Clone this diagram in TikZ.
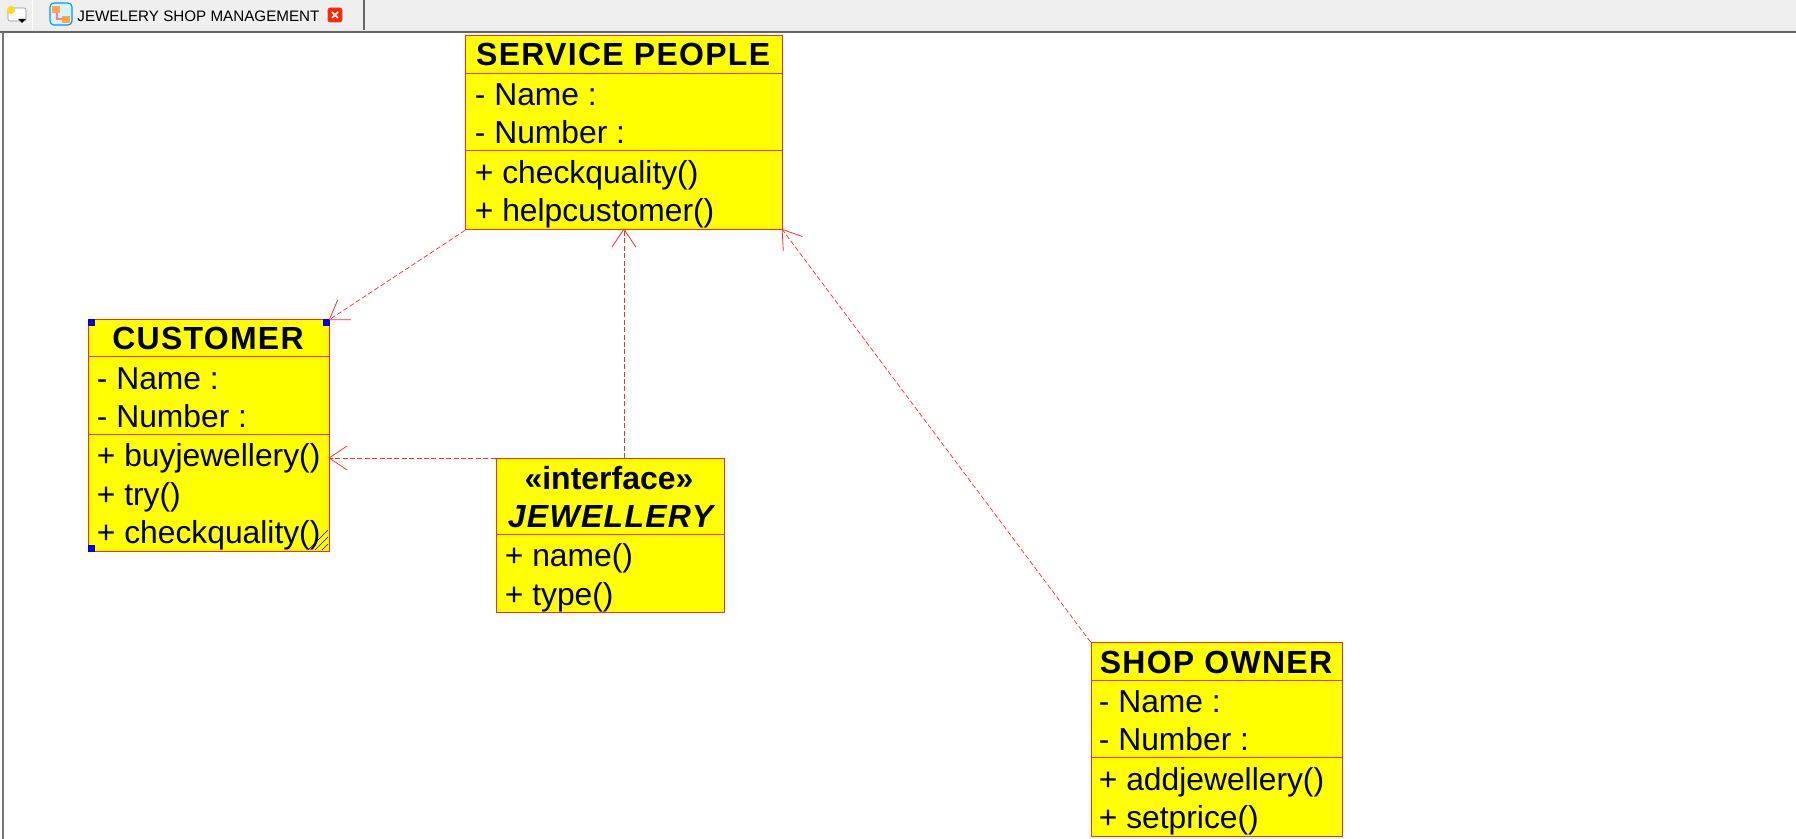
\documentclass[tikz,border=0pt]{standalone}
\usepackage{fontspec}
\setmainfont{Liberation Sans}
\newfontfamily\titlefont[LetterSpace=4]{Liberation Sans}
\usetikzlibrary{arrows.meta}
\definecolor{umlred}{RGB}{255,40,40}
\definecolor{umlyellow}{RGB}{255,255,0}
\definecolor{umlblue}{RGB}{0,0,230}
\definecolor{barback}{RGB}{239,239,239}
\tikzset{
  classbox/.style={draw=umlred,fill=umlyellow,line width=0.7pt,anchor=north west,inner sep=0pt},
  classline/.style={draw=umlred,line width=0.5pt},
  classrow/.style={anchor=base west,inner sep=0pt,font=\fontsize{15.9pt}{18pt}\selectfont},
  classtitle/.style={anchor=base,inner sep=0pt,font=\titlefont\bfseries\fontsize{16pt}{18pt}\selectfont},
  dep/.style={draw=umlred,line width=0.35pt,dash pattern=on 2.5pt off 1.2pt,shorten >=-1pt,-{Straight Barb[length=9pt,width=12pt,line width=0.4pt]}},
  handle/.style={fill=umlblue,inner sep=0pt,minimum size=3.4pt},
}
\begin{document}
\begin{tikzpicture}[x=0.5pt,y=-0.5pt]
  \useasboundingbox (0,0) rectangle (1796,839);
  % routine for the tab bar
  \fill[barback] (0,0) rectangle (1796,30);
  \fill[white!85!gray] (0,29) rectangle (1796,31);
  \fill[black!60] (0,31) rectangle (1796,33);
  \fill[black!55] (2,32) rectangle (4,839);
  \draw[white,line width=0.5pt] (32,0) -- (32,30);
  \draw[black!60,line width=0.8pt] (364,0) -- (364,30);
  \draw[black!45,fill=white,rounded corners=1pt,line width=0.3pt] (8,8) rectangle (26,21);
  \fill[yellow!80!orange] (11,10) circle (2pt);
  \fill[black] (18,19) -- (26,19) -- (22,23) -- cycle;
  \draw[blue!40!cyan,fill=cyan!15,rounded corners=2pt,line width=0.6pt] (50,3) rectangle (72,25);
  \fill[orange!70] (52,6) rectangle (60,13);
  \fill[orange!70] (62,16) rectangle (70,23);
  \fill[red!50] (56,13) rectangle (58,20) (58,18) rectangle (62,20);
  \node[anchor=base west,inner sep=0pt,font=\fontsize{7.6pt}{9pt}\selectfont] (tabtitle) at (77,21.5) {JEWELERY SHOP MANAGEMENT};
  \draw[red!60!black!70,fill=red!70!orange,rounded corners=1pt,line width=0.3pt] (328,8) rectangle (342,22);
  \draw[white,line width=0.8pt] (332,12) -- (338,18) (338,12) -- (332,18);

  % service people
  \node[classbox,minimum width=158.25pt,minimum height=97pt] (serv) at (465,35) {};
  \draw[classline] (serv.west |- 0,74) -- (serv.east |- 0,74);
  \draw[classline] (serv.west |- 0,151) -- (serv.east |- 0,151);
  \node[classtitle] (servtitle) at (623.2,66) {SERVICE PEOPLE};
  \node[classrow] (servname) at (474.5,105.5) {- Name :};
  \node[classrow] (servnumber) at (474.5,144) {- Number :};
  \node[classrow] (servcheck) at (474.5,184) {+ checkquality()};
  \node[classrow] (servhelp) at (474.5,221.5) {+ helpcustomer()};

  % customer
  \node[classbox,minimum width=120.5pt,minimum height=116pt] (cust) at (88,319) {};
  \draw[classline] (cust.west |- 0,357) -- (cust.east |- 0,357);
  \draw[classline] (cust.west |- 0,435) -- (cust.east |- 0,435);
  \node[classtitle] (custtitle) at (208,350) {CUSTOMER};
  \node[classrow] (custname) at (96.5,390) {- Name :};
  \node[classrow] (custnumber) at (96.5,428) {- Number :};
  \node[classrow] (custbuy) at (96.5,467) {+ buyjewellery()};
  \node[classrow] (custtry) at (96.5,505.5) {+ try()};
  \node[classrow] (custcheck) at (96.5,543.5) {+ checkquality()};
  % selection marks
  \foreach \corner in {north west,north east,south west}
    \node[handle,anchor=\corner] (cust \corner) at (cust.\corner) {};
  \draw[black,line width=0.3pt] (308,550) -- (328,530) (315,550) -- (328,537) (322,550) -- (328,544);

  % jewellery
  \node[classbox,minimum width=114pt,minimum height=77pt] (jewel) at (495.5,458) {};
  \draw[classline] (jewel.west |- 0,535) -- (jewel.east |- 0,535);
  \node[classrow,anchor=base,font=\bfseries\fontsize{16pt}{18pt}\selectfont] (jewelkind) at (609,490) {«interface»};
  \node[classtitle,font=\titlefont\bfseries\itshape\fontsize{16pt}{18pt}\selectfont] (jeweltitle) at (610.5,528) {JEWELLERY};
  \node[classrow] (jewelname) at (504.5,567) {+ name()};
  \node[classrow] (jeweltype) at (504.5,605.5) {+ type()};

  % shop owner
  \node[classbox,minimum width=125.5pt,minimum height=97pt] (shop) at (1090.5,642) {};
  \draw[classline] (shop.west |- 0,681) -- (shop.east |- 0,681);
  \draw[classline] (shop.west |- 0,758) -- (shop.east |- 0,758);
  \node[classtitle] (shoptitle) at (1216,674) {SHOP OWNER};
  \node[classrow] (shopname) at (1098.5,713) {- Name :};
  \node[classrow] (shopnumber) at (1098.5,751) {- Number :};
  \node[classrow] (shopadd) at (1098.5,790.5) {+ addjewellery()};
  \node[classrow] (shopset) at (1098.5,828) {+ setprice()};

  % dependencies
  \coordinate (custport) at (cust.east |- jewel.north west);
  \draw[dep] (serv.south west) -- (cust.north east);
  \draw[dep] (serv.south |- jewel.north) -- (serv.south);
  \draw[dep] (jewel.north west) -- (custport);
  \draw[dep] (shop.north west) -- (serv.south east);
\end{tikzpicture}
\end{document}
